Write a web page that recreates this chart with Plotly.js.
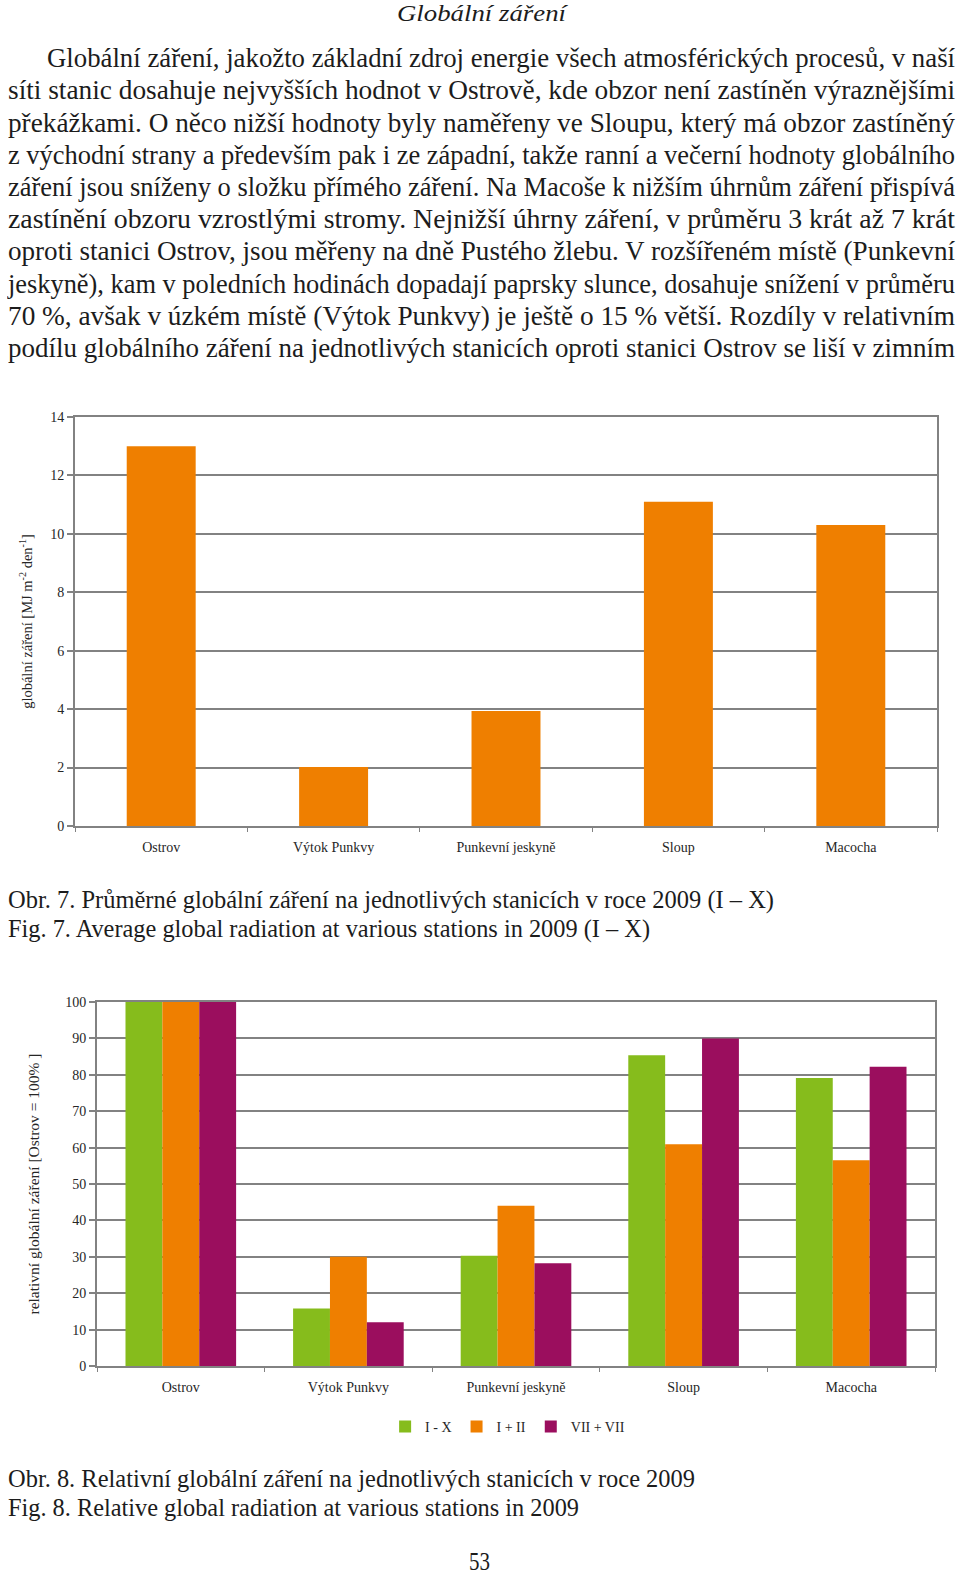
<!DOCTYPE html>
<html>
<head>
<meta charset="utf-8">
<script src="https://cdn.plot.ly/plotly-3.0.1.min.js"></script>
<style>
html,body{margin:0;padding:0;background:#fff;}
body{width:960px;height:1576px;position:relative;overflow:hidden;font-family:"Liberation Serif","Times New Roman",serif;color:#1c1c1c;}
.ln{position:absolute;white-space:nowrap;transform-origin:0 0;line-height:1.15;display:inline-block;}
.chart{position:absolute;left:0;}
</style>
</head>
<body>
<div id="c1" class="chart" style="top:380px;width:960px;height:500px;"></div>
<div id="c2" class="chart" style="top:960px;width:960px;height:520px;"></div>
<script>
// ---- data ----
const categories = ['Ostrov', 'Výtok Punkvy', 'Punkevní jeskyně', 'Sloup', 'Macocha'];
const avgRadiation = [13.0, 2.02, 3.94, 11.1, 10.3];          // MJ m-2 den-1, I–X 2009
const relIX = [100, 15.8, 30.3, 85.4, 79.1];                   // I - X
const relIII = [100, 30.0, 44.0, 60.9, 56.5];                  // I + II
const relVIIVIII = [100, 12.0, 28.2, 90.0, 82.2];              // VII + VIII
const seriesNames = ['I - X', 'I + II', 'VII + VII'];
const yTicks1 = [0, 2, 4, 6, 8, 10, 12, 14];
const yTicks2 = [0, 10, 20, 30, 40, 50, 60, 70, 80, 90, 100];

const pageTitle = 'Globální záření';
const bodyLines = [
 'Globální záření, jakožto základní zdroj energie všech atmosférických procesů, v naší',
 'síti stanic dosahuje nejvyšších hodnot v Ostrově, kde obzor není zastíněn výraznějšími',
 'překážkami. O něco nižší hodnoty byly naměřeny ve Sloupu, který má obzor zastíněný',
 'z východní strany a především pak i ze západní, takže ranní a večerní hodnoty globálního',
 'záření jsou sníženy o složku přímého záření. Na Macoše k nižším úhrnům záření přispívá',
 'zastínění obzoru vzrostlými stromy. Nejnižší úhrny záření, v průměru 3 krát až 7 krát',
 'oproti stanici Ostrov, jsou měřeny na dně Pustého žlebu. V rozšířeném místě (Punkevní',
 'jeskyně), kam v poledních hodinách dopadají paprsky slunce, dosahuje snížení v průměru',
 '70 %, avšak v úzkém místě (Výtok Punkvy) je ještě o 15 % větší. Rozdíly v relativním',
 'podílu globálního záření na jednotlivých stanicích oproti stanici Ostrov se liší v zimním'
];
const captions = [
 'Obr. 7. Průměrné globální záření na jednotlivých stanicích v roce 2009 (I – X)',
 'Fig. 7. Average global radiation at various stations in 2009 (I – X)',
 'Obr. 8. Relativní globální záření na jednotlivých stanicích v roce 2009',
 'Fig. 8. Relative global radiation at various stations in 2009'
];
const pageNumber = '53';
const yTitle1 = 'globální záření [MJ m<sup>-2</sup> den<sup>-1</sup>]';
const yTitle2 = 'relativní globální záření [Ostrov = 100% ]';

// ---- page text ----
function addLine(text, x, cy, size, width, italic) {
  const s = document.createElement('span');
  s.className = 'ln';
  s.textContent = text;
  s.style.fontSize = size + 'px';
  s.style.left = x + 'px';
  s.style.top = (cy - size * 0.575) + 'px';
  if (italic) s.style.fontStyle = 'italic';
  document.body.appendChild(s);
  s._w = width;
  return s;
}
const spans = [];
spans.push(addLine(pageTitle, 397, 14, 24, 169, true));
bodyLines.forEach((t, i) => {
  const x = i === 0 ? 47 : 8;
  spans.push(addLine(t, x, 58.3 + 32.2 * i, 28, 955 - x, false));
});
spans.push(addLine(captions[0], 8, 900, 25, 766, false));
spans.push(addLine(captions[1], 8, 929, 25, 642, false));
spans.push(addLine(captions[2], 8, 1479, 25, 687, false));
spans.push(addLine(captions[3], 8, 1508, 25, 571, false));
spans.push(addLine(pageNumber, 469, 1562, 25, 21, false));

function fit() {
  spans.forEach(s => {
    s.style.transform = 'none';
    const w = s.getBoundingClientRect().width;
    if (w > 0) s.style.transform = 'scaleX(' + (s._w / w) + ')';
  });
}
fit();
if (document.fonts && document.fonts.ready) document.fonts.ready.then(fit);

// ---- charts ----
const gridCol = '#828282';
const tickFont = {family: 'Liberation Serif, serif', size: 14, color: '#262626'};
const orange = '#EF7F00';
const green = '#86BC1C';
const purple = '#9B0E5E';

const xBase = {
  showline: true, linecolor: gridCol, linewidth: 2, mirror: true,
  ticks: 'outside', tickson: 'boundaries', ticklen: 4, tickcolor: gridCol, tickwidth: 1,
  showgrid: false, tickfont: tickFont, ticklabelstandoff: 7, fixedrange: true
};
function yBase(range, vals, title, standoff, tsize) {
  return {
    range: range, tickvals: vals, showgrid: true, gridcolor: gridCol, gridwidth: 2,
    showline: true, linecolor: gridCol, linewidth: 2, mirror: true, zeroline: false,
    ticks: 'outside', ticklen: 6, tickcolor: gridCol, tickwidth: 2, tickfont: tickFont,
    title: {text: title, font: {family: 'Liberation Serif, serif', size: tsize, color: '#262626'}, standoff: standoff},
    fixedrange: true
  };
}

Plotly.newPlot('c1', [{
  type: 'bar', x: categories, y: avgRadiation, marker: {color: orange}, hoverinfo: 'none'
}], {
  width: 960, height: 500,
  margin: {l: 75, r: 23, t: 37, b: 54},
  paper_bgcolor: 'rgba(0,0,0,0)', plot_bgcolor: '#fff',
  bargap: 0.6, showlegend: false,
  xaxis: xBase,
  yaxis: yBase([0, 14], yTicks1, yTitle1, 14, 14.5)
}, {displayModeBar: false, staticPlot: true});

Plotly.newPlot('c2', [
  {type: 'bar', name: seriesNames[0], x: categories, y: relIX, marker: {color: green}, hoverinfo: 'none'},
  {type: 'bar', name: seriesNames[1], x: categories, y: relIII, marker: {color: orange}, hoverinfo: 'none'},
  {type: 'bar', name: seriesNames[2], x: categories, y: relVIIVIII, marker: {color: purple}, hoverinfo: 'none'}
], {
  width: 960, height: 520,
  margin: {l: 97, r: 25, t: 42, b: 114},
  paper_bgcolor: 'rgba(0,0,0,0)', plot_bgcolor: '#fff',
  barmode: 'group', bargap: 0.34, bargroupgap: 0,
  showlegend: true,
  legend: {orientation: 'h', x: 0.49, xanchor: 'center', y: -0.167, yanchor: 'middle',
           font: {family: 'Liberation Serif, serif', size: 14, color: '#262626'},
           itemwidth: 30, traceorder: 'normal', bgcolor: 'rgba(0,0,0,0)'},
  xaxis: xBase,
  yaxis: yBase([0, 100], yTicks2, yTitle2, 22, 15.5)
}, {displayModeBar: false, staticPlot: true});
</script>
</body>
</html>
